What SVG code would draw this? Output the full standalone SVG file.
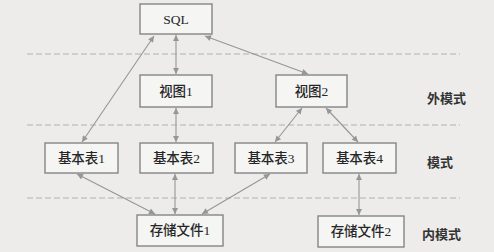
<svg xmlns="http://www.w3.org/2000/svg" width="494" height="252" viewBox="0 0 494 252">
  <style>
    .bg { fill: #edecea; }
    .box { fill: #f5f5f4; stroke: #858585; stroke-width: 1.4; }
    .lbl { font-family: "Liberation Serif", "Noto Sans CJK SC", serif; font-size: 13.5px; font-weight: 500; fill: #262626; text-anchor: middle; dominant-baseline: central; }
    .tier { font-family: "Noto Sans CJK SC", "Liberation Sans", sans-serif; font-size: 13px; font-weight: bold; fill: #333333; dominant-baseline: central; }
    .sep { stroke: #b0b0b0; stroke-width: 1; stroke-dasharray: 6 3; fill: none; }
    .link { stroke: #969696; stroke-width: 1.1; fill: none; marker-start: url(#tip); marker-end: url(#tip); }
  </style>
  <defs>
    <marker id="tip" viewBox="0 0 10 10" refX="10" refY="5" markerWidth="8" markerHeight="6" markerUnits="userSpaceOnUse" orient="auto-start-reverse">
      <path d="M0,0 L10,5 L0,10 Z" fill="#969696"/>
    </marker>
  </defs>

  <rect class="bg" x="0" y="0" width="494" height="252"/>

  <!-- level separators -->
  <g id="separators">
    <line class="sep" x1="27" y1="54" x2="460" y2="54"/>
    <line class="sep" x1="27" y1="125" x2="460" y2="125"/>
    <line class="sep" x1="27" y1="198" x2="460" y2="198"/>
  </g>

  <!-- connectors (two-way) -->
  <g id="connectors">
    <line class="link" x1="176" y1="35" x2="176" y2="74"/>
    <line class="link" x1="154" y1="36" x2="82" y2="142"/>
    <line class="link" x1="205" y1="36" x2="308" y2="74"/>
    <line class="link" x1="176" y1="108" x2="176" y2="142"/>
    <line class="link" x1="302" y1="108" x2="275" y2="142"/>
    <line class="link" x1="326" y1="108" x2="358" y2="142"/>
    <line class="link" x1="77" y1="174" x2="155" y2="214"/>
    <line class="link" x1="175" y1="174" x2="175" y2="214"/>
    <line class="link" x1="270" y1="174" x2="202" y2="214"/>
    <line class="link" x1="359" y1="174" x2="359" y2="215"/>
  </g>

  <!-- nodes -->
  <g id="sql">
    <rect class="box" x="140" y="4" width="72" height="30"/>
    <text class="lbl" x="176" y="19">SQL</text>
  </g>
  <g id="view1">
    <rect class="box" x="140" y="75" width="72" height="32"/>
    <text class="lbl" x="176" y="91">视图1</text>
  </g>
  <g id="view2">
    <rect class="box" x="276" y="75" width="71" height="32"/>
    <text class="lbl" x="311.5" y="91">视图2</text>
  </g>
  <g id="table1">
    <rect class="box" x="45" y="143" width="73" height="30"/>
    <text class="lbl" x="81.5" y="158">基本表1</text>
  </g>
  <g id="table2">
    <rect class="box" x="140" y="143" width="73" height="30"/>
    <text class="lbl" x="176.5" y="158">基本表2</text>
  </g>
  <g id="table3">
    <rect class="box" x="235" y="143" width="72" height="30"/>
    <text class="lbl" x="271" y="158">基本表3</text>
  </g>
  <g id="table4">
    <rect class="box" x="323" y="143" width="73" height="30"/>
    <text class="lbl" x="359.5" y="158">基本表4</text>
  </g>
  <g id="file1">
    <rect class="box" x="137" y="215" width="86" height="31"/>
    <text class="lbl" x="180" y="230.5">存储文件1</text>
  </g>
  <g id="file2">
    <rect class="box" x="318" y="216" width="86" height="31"/>
    <text class="lbl" x="361" y="231.5">存储文件2</text>
  </g>

  <!-- tier names -->
  <g id="tiers">
    <text class="tier" x="427" y="97">外模式</text>
    <text class="tier" x="427" y="161">模式</text>
    <text class="tier" x="422" y="233">内模式</text>
  </g>
</svg>
